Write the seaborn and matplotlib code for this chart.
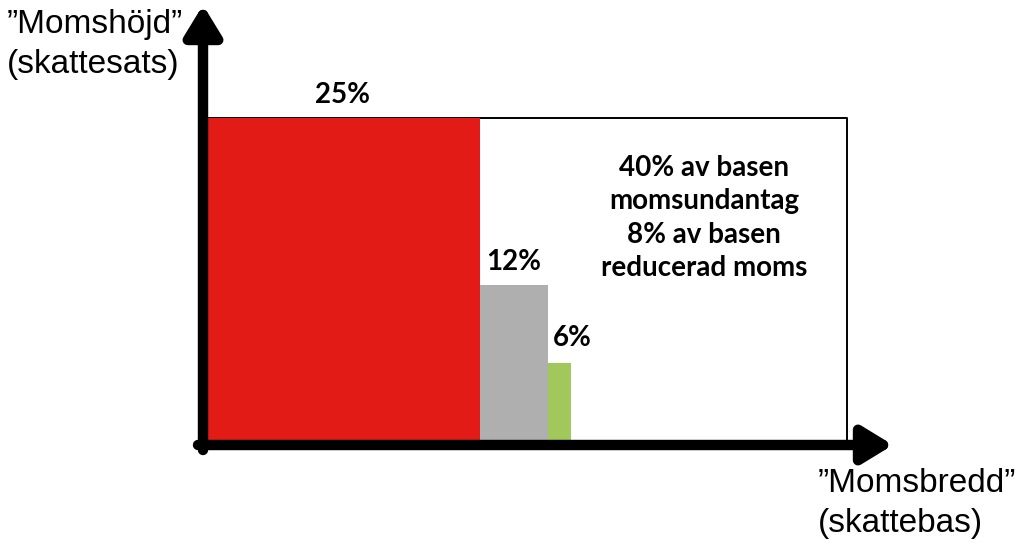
import numpy as np
import matplotlib
matplotlib.use("Agg")
import matplotlib.pyplot as plt
import seaborn as sns

# momssatser och andel av skattebasen (schematiskt)
rate_labels = ["25%", "12%", "6%"]
rates = [25, 12, 6]
base_share = [42.8, 10.6, 3.6]      # bredd på staplarna, % av basen
exempt_share = 43.0                  # momsundantag (vit yta)
bar_colors = ["#E31B17", "#AFAFAF", "#A1C85A"]

y_label = "\u201dMomshöjd\u201d\n(skattesats)"
x_label = "\u201dMomsbredd\u201d\n(skattebas)"
note = "40% av basen\nmomsundantag\n8% av basen\nreducerad moms"

sns.set_theme(style="white")
plt.rcParams["font.family"] = ["Liberation Sans", "DejaVu Sans"]
plt.rcParams["text.color"] = "black"
bold_font = ["Lato", "DejaVu Sans"]

fig = plt.figure(figsize=(10.24, 5.47), dpi=100)
ax = fig.add_axes([0, 0, 1, 1])

# skala: 0 på x vid pixel 205, 100 vid pixel 847; 0 på y vid pixel 440, 25 vid pixel 118
px_x = 642 / 100.0
px_y = 322 / 25.0
ax.set_xlim(-205 / px_x, (1024 - 205) / px_x)
ax.set_ylim(-(547 - 440) / px_y, 440 / px_y)
ax.axis("off")

total = sum(base_share) + exempt_share
lefts = np.concatenate([[0], np.cumsum(base_share)[:-1]])

# yttre ram (hela basen vid högsta satsen)
ax.plot([0, total, total], [rates[0], rates[0], 0], color="black", lw=1.4, zorder=1)

ax.bar(lefts, rates, width=base_share, align="edge", color=bar_colors,
       edgecolor="none", zorder=2)

for i, (lab, left, w, r) in enumerate(zip(rate_labels, lefts, base_share, rates)):
    if i == len(rates) - 1:
        ax.text(left + 5 / px_x, r + 12 / px_y, lab, ha="left", va="bottom",
                fontsize=20, fontweight="bold", family=bold_font)
    else:
        ax.text(left + w / 2, r + 10 / px_y, lab, ha="center", va="bottom",
                fontsize=20, fontweight="bold", family=bold_font)

ax.text(499 / px_x, 222 / px_y, note, ha="center", va="center",
        fontsize=20, fontweight="bold", linespacing=1.36, family=bold_font)

# axlar med pilar
arrow = dict(arrowstyle="-|>,head_length=0.9,head_width=0.55", color="black",
             lw=7.5, mutation_scale=20, shrinkA=0, shrinkB=0)
ax.annotate("", xy=(-2 / px_x, 435 / px_y), xytext=(-2 / px_x, -10 / px_y),
            arrowprops=arrow, zorder=3)
ax.annotate("", xy=(688 / px_x, -5 / px_y), xytext=(-7 / px_x, -5 / px_y),
            arrowprops=arrow, zorder=3)

ax.text(-198 / px_x, 431 / px_y, y_label, ha="left", va="top", fontsize=24,
        linespacing=1.37)
ax.text(613 / px_x, -28 / px_y, x_label, ha="left", va="top", fontsize=24,
        linespacing=1.37)

fig.savefig("out.png", dpi=100)
